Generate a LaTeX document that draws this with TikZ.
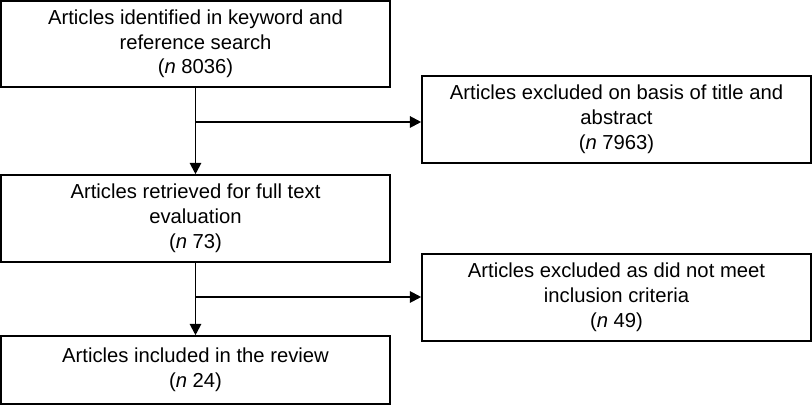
\documentclass[tikz,border=0pt]{standalone}
\usepackage{fontspec}
\setmainfont{Liberation Sans}
\usetikzlibrary{arrows.meta}

\begin{document}
\begin{tikzpicture}[
    x=0.025cm, y=-0.025cm,
    every node/.style={draw, line width=1.1pt, minimum width=389*0.025cm, align=center,
        inner sep=0pt, font=\fontsize{14.4pt}{17.6pt}\selectfont},
    >={Triangle[length=8pt, width=8pt]} % arrow tips
]
    \useasboundingbox (0,0) rectangle (812,406);
    \node[minimum height=86*0.025cm] (ident) at (195.5, 44) {Articles identified in keyword and\\reference search\\(\textit{n} 8036)};
    \node[minimum height=87*0.025cm] (exclA) at (616.5, 119.5) {Articles excluded on basis of title and\\abstract\\(\textit{n} 7963)};
    \node[minimum height=87*0.025cm] (retr) at (195.5, 218.5) {Articles retrieved for full text\\evaluation\\(\textit{n} 73)};
    \node[minimum height=87*0.025cm] (exclB) at (616.5, 297.5) {Articles excluded as did not meet\\inclusion criteria\\(\textit{n} 49)};
    \node[minimum height=68*0.025cm] (incl) at (195.5, 370) {Articles included in the review\\(\textit{n} 24)};
    \coordinate (j1) at (195.5, 122);
    \coordinate (j2) at (195.5, 297);
    \draw[->, line width=1.4pt] (ident) -- (retr);
    \draw[->, line width=1.4pt] (j1) -- (j1 -| exclA.west);
    \draw[->, line width=1.4pt] (retr) -- (incl);
    \draw[->, line width=1.4pt] (j2) -- (j2 -| exclB.west);
\end{tikzpicture}
\end{document}
